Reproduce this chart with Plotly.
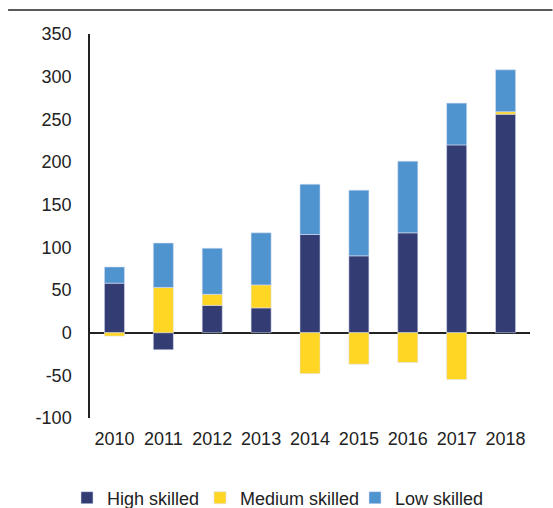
import plotly.graph_objects as go

years = ["2010", "2011", "2012", "2013", "2014", "2015", "2016", "2017", "2018"]
high_skilled = [58, -20, 32, 29, 115, 90, 117, 220, 256]
medium_skilled = [-4, 53, 13, 27, -48, -37, -35, -55, 3]
low_skilled = [19, 52, 54, 61, 59, 77, 84, 49, 49]
y_ticks = [-100, -50, 0, 50, 100, 150, 200, 250, 300, 350]
y_tick_labels = [str(v) for v in y_ticks]

W, H = 553, 508
ml, mr, mt, mb = 90, 22.5, 34, 90
font = dict(family="Liberation Sans, Arial, sans-serif", size=18, color="#222222")

fig = go.Figure()
series = [("High skilled", high_skilled, "#333C73", "legend", 107),
          ("Medium skilled", medium_skilled, "#FFD624", "legend2", 240),
          ("Low skilled", low_skilled, "#4F93CF", "legend3", 395)]
legend_cfg = {}
for name, vals, col, lg, text_x in series:
    fig.add_trace(go.Bar(x=years, y=vals, name=name, marker_color=col, legend=lg,
                         marker_line=dict(width=0.6, color="rgba(220,225,245,0.9)")))
    legend_cfg[lg] = dict(orientation="h", xref="container", yref="container",
                          x=(text_x - 40) / W, xanchor="left", y=10 / H, yanchor="middle",
                          bgcolor="rgba(0,0,0,0)",
                          font=dict(size=18, color="#222222"), itemwidth=30)

pw = W - ml - mr
ph = H - mt - mb
fig.add_shape(type="line", xref="paper", yref="paper",
              x0=(8 - ml) / pw, x1=(W - ml) / pw,
              y0=(H - mb - 10) / ph, y1=(H - mb - 10) / ph,
              line=dict(color="#222222", width=1.5))

fig.update_layout(
    width=W, height=H,
    margin=dict(l=ml, r=mr, t=mt, b=mb, pad=0, autoexpand=False),
    barmode="relative",
    bargap=0.59,
    plot_bgcolor="white", paper_bgcolor="white",
    font=font,
    showlegend=True,
    xaxis=dict(showline=False, ticks="", showgrid=False, zeroline=False,
               tickfont=font, ticklabelstandoff=8),
    yaxis=dict(range=[-100, 350], tickvals=y_ticks, ticktext=y_tick_labels,
               showgrid=False,
               showline=True, linecolor="#222222", linewidth=1.5,
               zeroline=True, zerolinecolor="#222222", zerolinewidth=1.5,
               ticks="", ticklabelstandoff=13, tickfont=font),
    **legend_cfg,
)

fig.write_html("out.html", config={"displayModeBar": False},
               post_script="document.body.style.margin='0';document.body.style.overflow='hidden';")
